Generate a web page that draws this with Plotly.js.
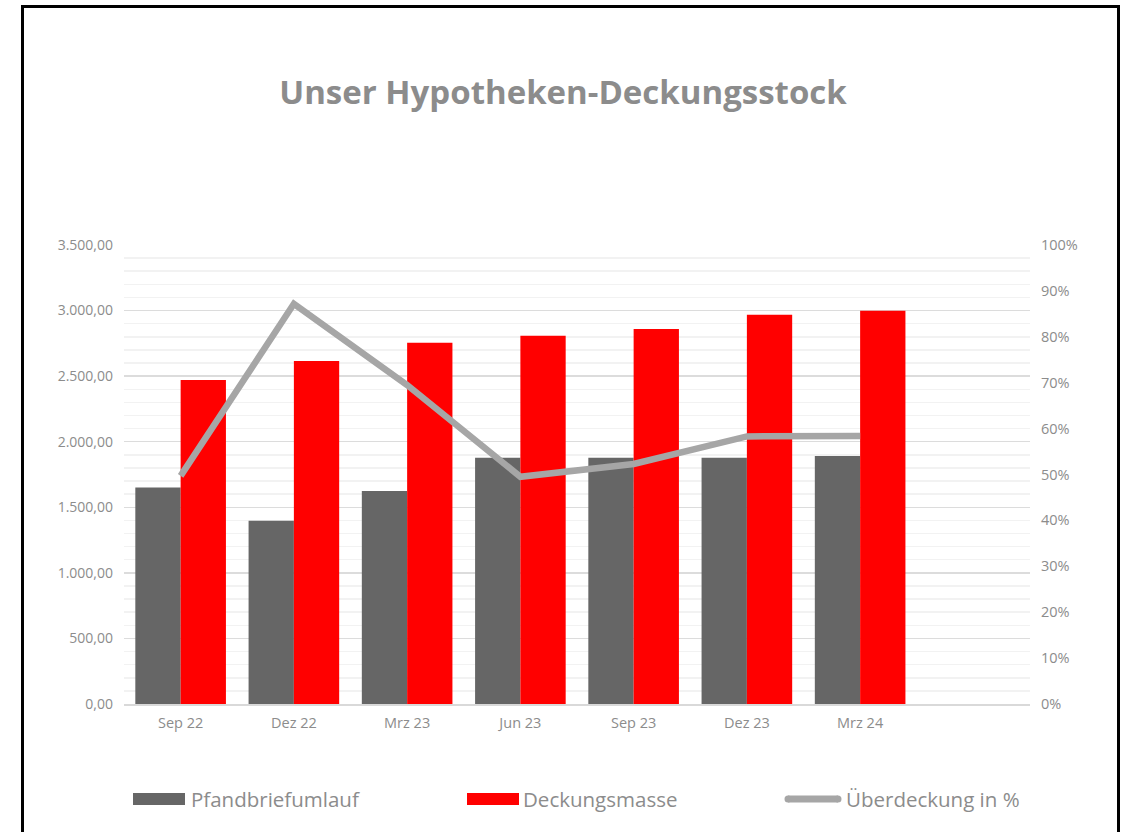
<!DOCTYPE html>
<html>
<head>
<meta charset="utf-8">
<script src="https://cdn.plot.ly/plotly-3.0.1.min.js"></script>
<style>
html,body{margin:0;padding:0;background:#fff;}
#frame{position:absolute;left:21px;top:5px;width:1099px;height:840px;border:3px solid #000;border-bottom:none;box-sizing:border-box;}
#chart{position:absolute;left:0;top:0;width:1132px;height:832px;}
</style>
</head>
<body>
<div id="chart"></div>
<div id="frame"></div>
<script>
const categories = ["Sep 22", "Dez 22", "Mrz 23", "Jun 23", "Sep 23", "Dez 23", "Mrz 24"];
const pfandbriefumlauf = [1650, 1398, 1625, 1878, 1878, 1878, 1892];
const deckungsmasse = [2470, 2616, 2754, 2808, 2860, 2968, 2998];
const ueberdeckung = [0.497, 0.872, 0.695, 0.495, 0.523, 0.583, 0.584];
const seriesNames = ["Pfandbriefumlauf", "Deckungsmasse", "Überdeckung in %"];
const titleText = "Unser Hypotheken-Deckungsstock";

const gray = "#666666", red = "#ff0000", lineCol = "#a6a6a6", txt = "#8c8c8c";
const font = "Open Sans, Noto Sans, sans-serif";

const traces = [
  {type: "bar", name: seriesNames[0], x: categories, y: pfandbriefumlauf,
   marker: {color: gray}, hoverinfo: "skip"},
  {type: "bar", name: seriesNames[1], x: categories, y: deckungsmasse,
   marker: {color: red}, hoverinfo: "skip"},
  {type: "scatter", mode: "lines", name: seriesNames[2], x: categories, y: ueberdeckung,
   yaxis: "y2", line: {color: lineCol, width: 6.5}, hoverinfo: "skip"}
];

// custom legend (paper coords)
function px2x(p){ return (p - 124) / 906; }
function py2y(p){ return (704 - p) / 459; }
const ly = 799;
const shapes = [
  {type: "rect", xref: "paper", yref: "paper", x0: px2x(133), x1: px2x(185), y0: py2y(805), y1: py2y(793),
   fillcolor: gray, line: {width: 0}},
  {type: "rect", xref: "paper", yref: "paper", x0: px2x(467), x1: px2x(519), y0: py2y(805), y1: py2y(793),
   fillcolor: red, line: {width: 0}},
  {type: "line", xref: "paper", yref: "paper", x0: px2x(788), x1: px2x(838), y0: py2y(ly), y1: py2y(ly),
   line: {color: lineCol, width: 7}},
  {type: "circle", xref: "paper", yref: "paper", x0: px2x(784.5), x1: px2x(791.5), y0: py2y(ly+3.5), y1: py2y(ly-3.5),
   fillcolor: lineCol, line: {width: 0}},
  {type: "circle", xref: "paper", yref: "paper", x0: px2x(834.5), x1: px2x(841.5), y0: py2y(ly+3.5), y1: py2y(ly-3.5),
   fillcolor: lineCol, line: {width: 0}}
];
const legX = [189, 521, 844];
const annotations = seriesNames.map((n, i) => ({
  xref: "paper", yref: "paper", x: px2x(legX[i]), y: py2y(ly), xanchor: "left", yanchor: "middle",
  text: n, showarrow: false, font: {family: font, size: 20.5, color: txt}
}));

const layout = {
  width: 1132, height: 832,
  margin: {l: 124, r: 102, t: 245, b: 128},
  paper_bgcolor: "#fff", plot_bgcolor: "#fff",
  separators: ",.",
  showlegend: false,
  barmode: "group", bargap: 0.2, bargroupgap: 0,
  title: {text: "<b>" + titleText + "</b>", x: 563/1132, xanchor: "center", xref: "container",
          y: 1 - 92/832, yanchor: "middle", yref: "container",
          font: {family: font, size: 33, color: txt}},
  xaxis: {type: "category", range: [-0.5, 7.5], showgrid: false, showline: true,
          linecolor: "#d9d9d9", linewidth: 1.5, ticks: "", fixedrange: true,
          tickfont: {family: font, size: 14.5, color: txt}, ticklabelstandoff: 5},
  yaxis: {range: [0, 3500], dtick: 500, tickformat: ",.2f", showgrid: true,
          gridcolor: "#dcdcdc", gridwidth: 1.5, zeroline: false, ticks: "", showline: false,
          minor: {dtick: 100, showgrid: true, gridcolor: "#f2f2f2", gridwidth: 1.5},
          tickfont: {family: font, size: 14, color: txt}, ticklabelstandoff: 10},
  yaxis2: {range: [0, 1], dtick: 0.1, tickformat: ".0%", overlaying: "y", side: "right",
           showgrid: false, zeroline: false, ticks: "", showline: false,
           tickfont: {family: font, size: 14.5, color: txt}, ticklabelstandoff: 10},
  shapes: shapes,
  annotations: annotations
};

Plotly.newPlot("chart", traces, layout, {displayModeBar: false, staticPlot: true});
</script>
</body>
</html>
